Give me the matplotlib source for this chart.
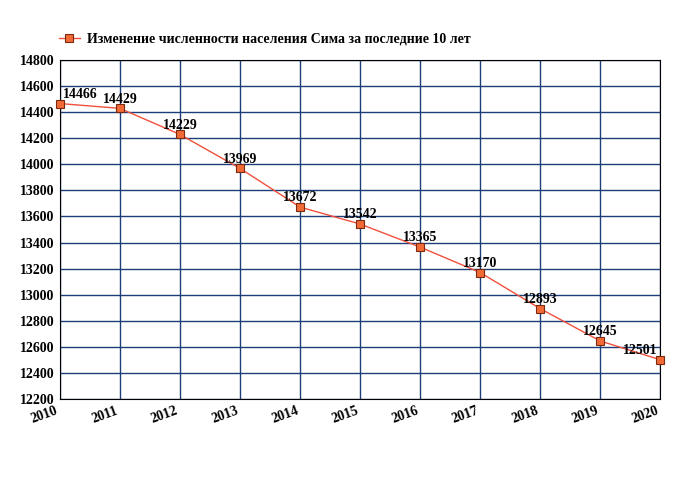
import matplotlib
matplotlib.use("Agg")
import matplotlib.pyplot as plt

years = [2010, 2011, 2012, 2013, 2014, 2015, 2016, 2017, 2018, 2019, 2020]
population = [14466, 14429, 14229, 13969, 13672, 13542, 13365, 13170, 12893, 12645, 12501]
legend_label = "Изменение численности населения Сима за последние 10 лет"

plt.rcParams["font.family"] = "Liberation Serif"
fig = plt.figure(figsize=(6.8, 5.0), dpi=100)
ax = fig.add_axes([0.088, 0.202, 0.883, 0.678])

ax.plot(years, population, color="#f0503c", lw=1, marker="s", ms=6,
        markerfacecolor="#f26a36", markeredgecolor="#7a2a10", markeredgewidth=0.8,
        label=legend_label, clip_on=False, zorder=3)

for i, (x, y) in enumerate(zip(years, population)):
    ha = "center"
    dx = 0
    if i == 0:
        ha, dx = "left", 2
    elif i == len(years) - 1:
        ha, dx = "right", -2
    ax.annotate(str(y), (x, y), xytext=(dx, 2), textcoords="offset points",
                ha=ha, va="bottom", fontsize=10, fontweight="bold", zorder=4)

ax.set_xlim(2010, 2020)
ax.set_ylim(12200, 14800)
ax.set_xticks(years)
ax.set_yticks(range(12200, 14801, 200))
ax.grid(True, color="#1c3f7a", lw=1)
ax.set_axisbelow(True)
for s in ax.spines.values():
    s.set_color("black")
ax.tick_params(length=0, pad=4)
for lab in ax.get_yticklabels():
    lab.set_fontweight("bold")
    lab.set_fontsize(10)
for lab in ax.get_xticklabels():
    lab.set_fontweight("bold")
    lab.set_fontsize(10)
    lab.set_rotation(20)
    lab.set_ha("right")

fig.legend(loc="upper left", bbox_to_anchor=(0.068, 0.96), frameon=False,
           prop={"size": 10, "weight": "bold"}, handlelength=1.5, handletextpad=0.5)

fig.savefig("out.png", dpi=100)
